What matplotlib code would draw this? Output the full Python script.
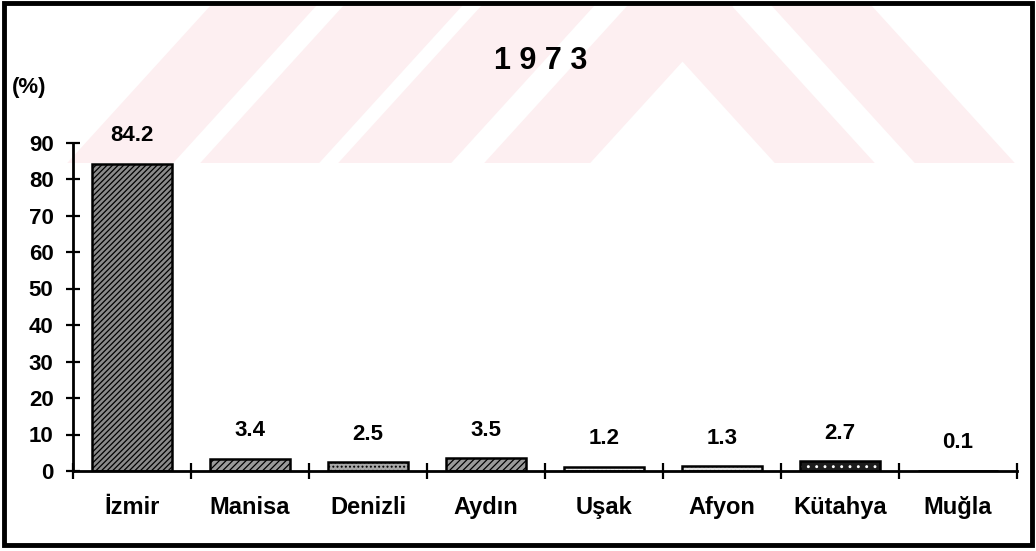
import numpy as np
import matplotlib
matplotlib.use("Agg")
import matplotlib.pyplot as plt
from matplotlib.patches import Polygon, Rectangle

plt.rcParams["font.family"] = ["Liberation Sans", "DejaVu Sans"]
plt.rcParams["font.weight"] = "bold"
plt.rcParams["hatch.linewidth"] = 0.9

year = "1 9 7 3"
provinces = ["İzmir", "Manisa", "Denizli", "Aydın", "Uşak", "Afyon", "Kütahya", "Muğla"]
shares = [84.2, 3.4, 2.5, 3.5, 1.2, 1.3, 2.7, 0.1]
y_ticks = [0, 10, 20, 30, 40, 50, 60, 70, 80, 90]

# fill style for each bar: (face, hatch colour, hatch)
bar_styles = [
    ("#8a8a8a", "black", "//////"),
    ("#9a9a9a", "black", "/////"),
    ("#a8a8a8", "black", "...."),
    ("#9a9a9a", "black", "/////"),
    ("#ececec", "#9a9a9a", "...."),
    ("#e2e2e2", "#8a8a8a", "...."),
    ("#1c1c1c", "white", ".."),
    ("white", "black", ""),
]

W, H = 1036, 551
fig = plt.figure(figsize=(W / 100, H / 100), dpi=100)
fig.patch.set_facecolor("white")


def fig_xy(x, y):
    return (x / W, 1 - y / H)


# faint pink background stamp: slanted stripes and a chevron, cut off at y=163
stamp_top, stamp_bottom = 5, 163
drop = 0.91 * (stamp_bottom - stamp_top)
rising = [(211, 317), (344, 463), (482, 595), (628, 734)]
falling = [(631, 731), (771, 871)]
stamp_color = "#fdeff1"
for a, b in rising:
    pts = [(a, stamp_top), (b, stamp_top), (b - drop, stamp_bottom), (a - drop, stamp_bottom)]
    fig.add_artist(Polygon([fig_xy(*p) for p in pts], closed=True,
                           transform=fig.transFigure, facecolor=stamp_color,
                           edgecolor="none", zorder=0))
for a, b in falling:
    pts = [(a, stamp_top), (b, stamp_top), (b + drop, stamp_bottom), (a + drop, stamp_bottom)]
    fig.add_artist(Polygon([fig_xy(*p) for p in pts], closed=True,
                           transform=fig.transFigure, facecolor=stamp_color,
                           edgecolor="none", zorder=0))

ax = fig.add_axes([73 / W, (H - 471) / H, (1017 - 73) / W, (471 - 142.5) / H])
ax.set_zorder(2)
ax.patch.set_alpha(0)

x = np.arange(len(provinces))
for xi, v, (face, hcol, hatch) in zip(x, shares, bar_styles):
    ax.bar(xi, v, width=0.68, color=face, edgecolor=hcol, hatch=hatch, linewidth=0, zorder=2)
    ax.bar(xi, v, width=0.68, fill=False, edgecolor="black", linewidth=1.8, zorder=3)
    ax.annotate(f"{v}", (xi, v), xytext=(0, 20), textcoords="offset points",
                ha="center", va="center", fontsize=16, fontweight="bold",
                annotation_clip=False)

ax.set_xlim(-0.5, len(provinces) - 0.5)
ax.set_ylim(0, 90)
for side in ["top", "right"]:
    ax.spines[side].set_visible(False)
for side in ["left", "bottom"]:
    ax.spines[side].set_linewidth(2)

ax.set_yticks(y_ticks)
ax.tick_params(axis="y", direction="inout", length=10, width=1.6, pad=9, labelsize=16)
ax.set_xticks(x)
ax.set_xticklabels(provinces)
ax.set_xticks(np.arange(-0.5, len(provinces), 1), minor=True)
ax.tick_params(axis="x", which="major", length=0, pad=18, labelsize=17)
ax.tick_params(axis="x", which="minor", direction="inout", length=12, width=1.6)

fig.text(541 / W, 1 - 61 / H, year, ha="center", va="center", fontsize=22, fontweight="bold")
fig.text(12 / W, 1 - 87 / H, "(%)", ha="left", va="center", fontsize=16, fontweight="bold")

# outer frame
x0, y0 = fig_xy(4, 545)
x1, y1 = fig_xy(1032, 3)
fig.add_artist(Rectangle((x0, y0), x1 - x0, y1 - y0, transform=fig.transFigure,
                         fill=False, edgecolor="black", linewidth=3.5, zorder=5))

fig.savefig("out.png", dpi=100)
